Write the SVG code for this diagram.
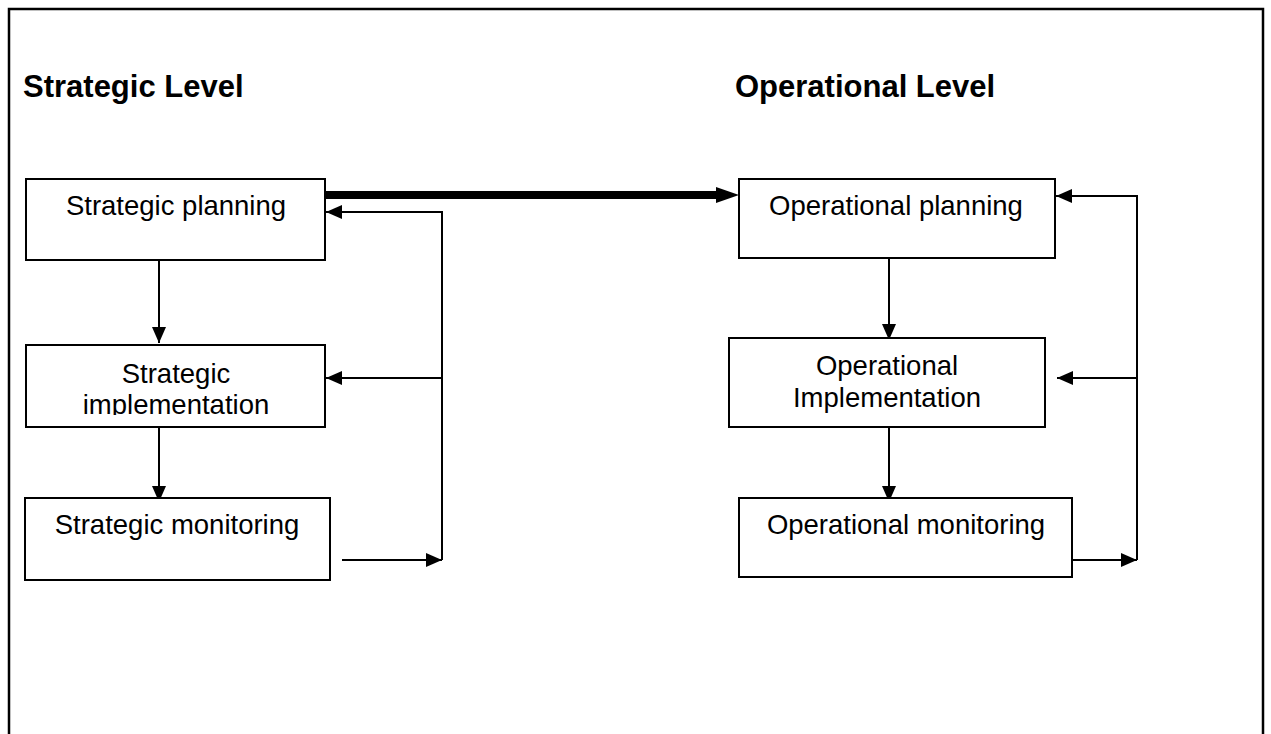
<svg xmlns="http://www.w3.org/2000/svg" width="1271" height="734" viewBox="0 0 1271 734">
<style>
.box{fill:#fff;stroke:#000;stroke-width:2}
.t{font-family:"Liberation Sans",Arial,sans-serif;font-size:27.5px;fill:#000;text-anchor:middle}
.h{font-family:"Liberation Sans",Arial,sans-serif;font-size:31px;font-weight:bold;fill:#000}
.c{fill:none;stroke:#000;stroke-width:2}
</style>
<defs>
<marker id="ah" viewBox="0 0 16 14" refX="16" refY="7" markerWidth="16" markerHeight="14" markerUnits="userSpaceOnUse" orient="auto"><path d="M0,0 L16,7 L0,14 Z" fill="#000"/></marker>
<marker id="ahb" viewBox="0 0 23 16" refX="0" refY="8" markerWidth="23" markerHeight="16" markerUnits="userSpaceOnUse" orient="auto"><path d="M0,0 L23,8 L0,16 Z" fill="#000"/></marker>
<clipPath id="clipImpl"><rect x="20" y="340" width="320" height="75"/></clipPath>
</defs>
<rect x="9" y="9" width="1254" height="740" fill="#fff" stroke="#000" stroke-width="2.5"/>
<text class="h" x="23" y="97">Strategic Level</text>
<text class="h" x="735" y="97">Operational Level</text>
<g id="connectors">
<path d="M325,195 H716" stroke="#000" stroke-width="8" fill="none" marker-end="url(#ahb)"/>
<path class="c" d="M159,260 V343" marker-end="url(#ah)"/>
<path class="c" d="M159,427 V502" marker-end="url(#ah)"/>
<path class="c" d="M342,560 H442" marker-end="url(#ah)"/>
<path class="c" d="M442,560 V212 H326" marker-end="url(#ah)"/>
<path class="c" d="M442,378 H326" marker-end="url(#ah)"/>
<path class="c" d="M889,258 V340" marker-end="url(#ah)"/>
<path class="c" d="M889,427 V502" marker-end="url(#ah)"/>
<path class="c" d="M1072,560 H1137" marker-end="url(#ah)"/>
<path class="c" d="M1137,560 V196 H1056" marker-end="url(#ah)"/>
<path class="c" d="M1137,378 H1057" marker-end="url(#ah)"/>
</g>
<g id="strategic-planning">
<rect class="box" x="26" y="179" width="299" height="81"/>
<text class="t" x="176" y="215">Strategic planning</text>
</g>
<g id="strategic-implementation">
<rect class="box" x="26" y="345" width="299" height="82"/>
<text class="t" x="176" y="383">Strategic</text>
<text class="t" x="176" y="414" clip-path="url(#clipImpl)">implementation</text>
</g>
<g id="strategic-monitoring">
<rect class="box" x="25" y="498" width="305" height="82"/>
<text class="t" x="177" y="534">Strategic monitoring</text>
</g>
<g id="operational-planning">
<rect class="box" x="739" y="179" width="316" height="79"/>
<text class="t" x="896" y="215">Operational planning</text>
</g>
<g id="operational-implementation">
<rect class="box" x="729" y="338" width="316" height="89"/>
<text class="t" x="887" y="375">Operational</text>
<text class="t" x="887" y="407">Implementation</text>
</g>
<g id="operational-monitoring">
<rect class="box" x="739" y="498" width="333" height="79"/>
<text class="t" x="906" y="534">Operational monitoring</text>
</g>
</svg>
